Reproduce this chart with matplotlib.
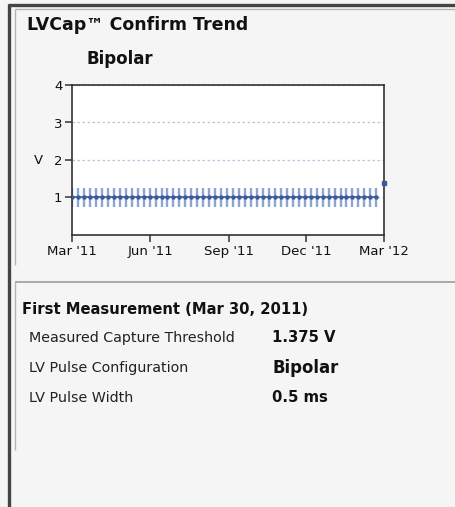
import matplotlib
matplotlib.use("Agg")
import matplotlib.pyplot as plt
from matplotlib.lines import Line2D
import pandas as pd

# weekly confirm results, all at 1.0 V with +/- range
trend_dates = pd.date_range("2011-03-01", periods=52, freq="7D")
trend_values = [1.0] * 52
trend_err = [0.25] * 52
last_date = pd.Timestamp("2012-03-01")
last_value = 1.375

x_ticks = pd.to_datetime(["2011-03-01", "2011-06-01", "2011-09-01", "2011-12-01", "2012-03-01"])
x_labels = ["Mar '11", "Jun '11", "Sep '11", "Dec '11", "Mar '12"]
y_ticks = [1, 2, 3, 4]

info_labels = ["Measured Capture Threshold", "LV Pulse Configuration", "LV Pulse Width"]
info_values = ["1.375 V", "Bipolar", "0.5 ms"]

W, H = 455, 507
bg = "#f5f5f5"
fig = plt.figure(figsize=(W / 100, H / 100), dpi=100, facecolor=bg)

def px(x, y):
    # pixel coords (top-left origin) -> figure fraction
    return x / W, 1 - y / H

def hline(x0, x1, y, **kw):
    fig.add_artist(Line2D([x0 / W, x1 / W], [1 - y / H, 1 - y / H], transform=fig.transFigure, **kw))

def vline(x, y0, y1, **kw):
    fig.add_artist(Line2D([x / W, x / W], [1 - y0 / H, 1 - y1 / H], transform=fig.transFigure, **kw))

# panel borders
dark = dict(color="#444444", lw=2.4, solid_capstyle="butt")
vline(9.2, 4, 507, **dark)
hline(8, 455, 5, **dark)
light = dict(color="#b4b4b4", lw=1.0, solid_capstyle="butt")
vline(15, 9, 265, **light)
hline(15, 455, 9, **light)
vline(15, 282, 450, **light)
hline(15, 455, 282, color="#a8a8a8", lw=1.4, solid_capstyle="butt")

# chart
ax = fig.add_axes([72 / W, 1 - 235 / H, 312 / W, 150 / H])
ax.set_facecolor("white")
ax.errorbar(trend_dates, trend_values, yerr=trend_err, fmt="none",
            ecolor="#8ea4d3", elinewidth=1.7, capsize=0, zorder=2)
ax.plot(trend_dates, trend_values, color="#3c5a99", lw=1.2, marker="o",
        ms=2.2, zorder=3)
ax.plot([last_date], [last_value], marker="s", ms=3.5, color="#3c5a99",
        ls="none", clip_on=False, zorder=4)

ax.set_xlim(x_ticks[0], x_ticks[-1])
ax.set_ylim(0, 4)
ax.set_xticks(x_ticks)
ax.set_xticklabels(x_labels)
ax.set_yticks(y_ticks)
ax.yaxis.grid(True, ls=(0, (2, 2)), color="#b8c6e0", lw=0.9)
ax.set_axisbelow(True)
for s in ax.spines.values():
    s.set_color("#333333")
    s.set_linewidth(1.2)
ax.tick_params(direction="out", length=5, width=1.1, color="#333333",
               labelsize=9.5, pad=2, labelcolor="#111111")

fig.text(*px(38, 160), "V", fontsize=9.5, ha="center", va="center", color="#111111")

# titles
fig.text(*px(27, 25), "LVCap\u2122 Confirm Trend", fontsize=12.5, fontweight="bold",
         ha="left", va="center", color="#111111")
fig.text(*px(87, 59), "Bipolar", fontsize=12, fontweight="bold",
         ha="left", va="center", color="#111111")

# first measurement panel
fig.text(*px(22, 310), "First Measurement (Mar 30, 2011)", fontsize=10.6,
         fontweight="bold", ha="left", va="center", color="#111111")
rows_y = [338, 368, 398]
for lab, val, y in zip(info_labels, info_values, rows_y):
    fig.text(*px(29, y), lab, fontsize=10.3, ha="left", va="center", color="#222222")
    fig.text(*px(272, y), val, fontsize=11.9 if val == "Bipolar" else 10.7,
             fontweight="bold", ha="left", va="center", color="#111111")

fig.savefig("out.png", dpi=100, facecolor=bg)
